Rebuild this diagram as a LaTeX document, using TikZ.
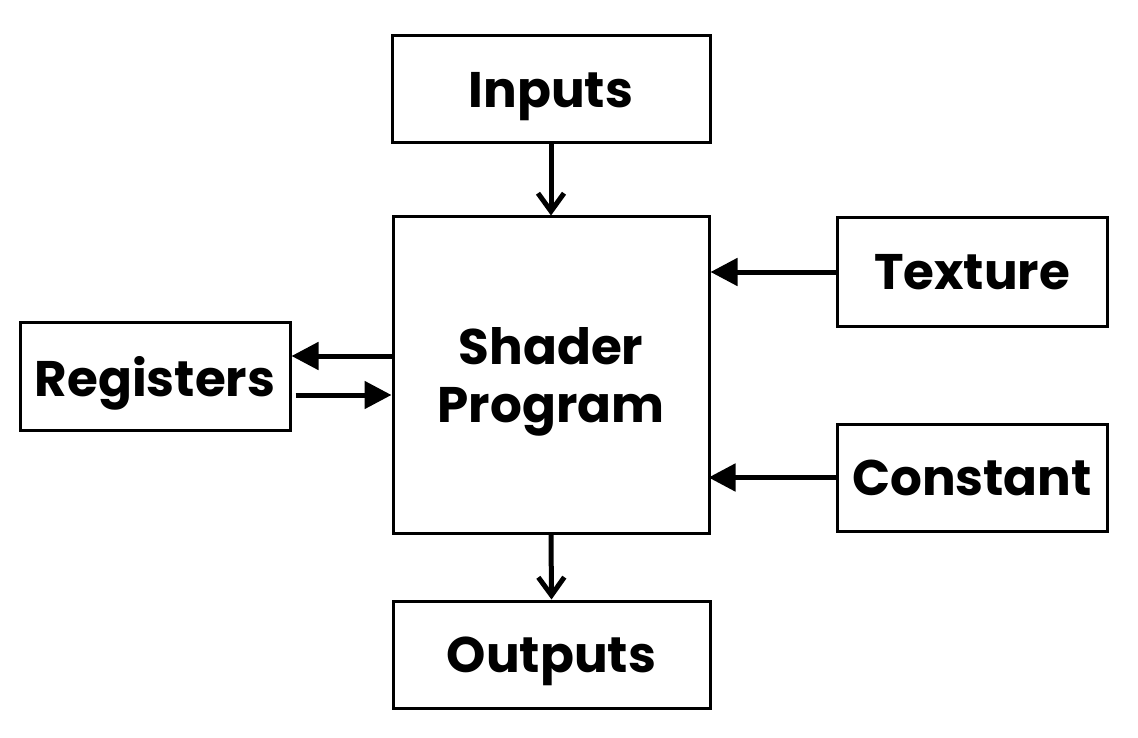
\documentclass[tikz,border=0pt]{standalone}
\usepackage{fontspec}
\setmainfont{Poppins}[UprightFont=* Bold]
\usetikzlibrary{arrows.meta}
\begin{document}
\begin{tikzpicture}[x=1pt,y=-1pt,
  box/.style={draw, line width=3pt, minimum width=#1, inner sep=0pt, text depth=0pt, font=\fontsize{50}{54}\selectfont, align=center},
  box/.default=270pt,
  harrow/.style={line width=5pt, -{Triangle[length=27pt,width=27pt]}},
  varrow/.style={line width=5pt, -{Straight Barb[length=18pt,width=26pt]}}]
\useasboundingbox (0,0) rectangle (1138,738);
\node[box=318pt, minimum height=107pt] (in) at (551,89.5) {Inputs};
\node[box=316pt, minimum height=316pt, font=\fontsize{50}{58}\selectfont] (sh) at (551,375) {Shader\\Program};
\node[box=317pt, minimum height=107pt] (out) at (551.5,654.5) {Outputs};
\node[box, minimum height=108pt] (reg) at (155,376) {Registers};
\node[box, minimum height=108pt] (tex) at (972,272) {Texture};
\node[box, minimum height=107pt] (con) at (972,477.5) {Constant};
\draw[varrow] (in.south) -- (sh.north);
\draw[varrow] (sh.south) -- (out.north);
\draw[harrow] (sh.west |- 0,356) -- (reg.east |- 0,356);
\draw[harrow] (reg.east |- 0,395) ++(4,0) -- (sh.west |- 0,395);
\draw[harrow] (tex.west) -- (sh.east |- tex.west);
\draw[harrow] (con.west) -- ([xshift=-2pt]sh.east |- con.west);
\end{tikzpicture}
\end{document}
